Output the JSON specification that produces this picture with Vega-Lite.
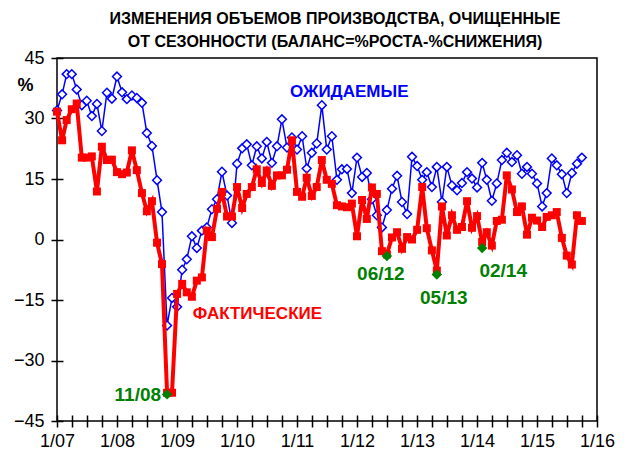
{
  "$schema": "https://vega.github.io/schema/vega-lite/v6.json",
  "width": 540,
  "height": 363,
  "autosize": {"type": "none"},
  "padding": {"left": 57, "top": 58, "right": 33, "bottom": 34},
  "background": "white",
  "title": {
    "text": ["ИЗМЕНЕНИЯ ОБЪЕМОВ ПРОИЗВОДСТВА, ОЧИЩЕННЫЕ", "ОТ СЕЗОННОСТИ (БАЛАНС=%РОСТА-%СНИЖЕНИЯ)"],
    "font": "Liberation Sans",
    "fontSize": 16,
    "fontWeight": "bold",
    "lineHeight": 23,
    "anchor": "middle",
    "offset": -1,
    "dx": 8,
    "color": "black"
  },
  "config": {
    "font": "Liberation Sans",
    "view": {"stroke": "black", "strokeWidth": 1.5},
    "axis": {"grid": false, "domain": false, "tickColor": "black", "tickWidth": 1.5, "tickSize": 12, "offset": -6, "labelFontSize": 18, "labelColor": "black", "labelFont": "Liberation Sans"}
  },
  "datasets": {
    "main": [
      {"d": "2007-01-01", "e": 32.0, "a": 31.7},
      {"d": "2007-02-01", "e": 36.0, "a": 24.6},
      {"d": "2007-03-01", "e": 41.0, "a": 29.6},
      {"d": "2007-04-01", "e": 41.0, "a": 32.3},
      {"d": "2007-05-01", "e": 37.2, "a": 33.7},
      {"d": "2007-06-01", "e": 33.3, "a": 20.3},
      {"d": "2007-07-01", "e": 34.4, "a": 20.3},
      {"d": "2007-08-01", "e": 30.6, "a": 20.6},
      {"d": "2007-09-01", "e": 33.6, "a": 11.9},
      {"d": "2007-10-01", "e": 26.9, "a": 23.0},
      {"d": "2007-11-01", "e": 36.4, "a": 19.7},
      {"d": "2007-12-01", "e": 34.9, "a": 19.8},
      {"d": "2008-01-01", "e": 40.4, "a": 16.7},
      {"d": "2008-02-01", "e": 36.5, "a": 16.2},
      {"d": "2008-03-01", "e": 34.8, "a": 16.6},
      {"d": "2008-04-01", "e": 35.7, "a": 22.1},
      {"d": "2008-05-01", "e": 35.1, "a": 17.2},
      {"d": "2008-06-01", "e": 33.9, "a": 11.5},
      {"d": "2008-07-01", "e": 26.4, "a": 7.0},
      {"d": "2008-08-01", "e": 23.2, "a": 9.5},
      {"d": "2008-09-01", "e": 14.7, "a": -0.8},
      {"d": "2008-10-01", "e": 6.8, "a": -6.1},
      {"d": "2008-11-01", "e": -21.3, "a": -38.0},
      {"d": "2008-12-01", "e": -14.5, "a": -38.0},
      {"d": "2009-01-01", "e": -16.7, "a": -13.5},
      {"d": "2009-02-01", "e": -7.5, "a": -11.0},
      {"d": "2009-03-01", "e": -4.9, "a": -13.1},
      {"d": "2009-04-01", "e": 0.8, "a": -14.2},
      {"d": "2009-05-01", "e": -2.1, "a": -10.2},
      {"d": "2009-06-01", "e": 2.2, "a": -9.4},
      {"d": "2009-07-01", "e": 3.0, "a": 2.2},
      {"d": "2009-08-01", "e": 7.5, "a": 0.6},
      {"d": "2009-09-01", "e": 10.0, "a": 7.6},
      {"d": "2009-10-01", "e": 16.8, "a": 11.8},
      {"d": "2009-11-01", "e": 10.9, "a": 5.7},
      {"d": "2009-12-01", "e": 4.1, "a": 5.7},
      {"d": "2010-01-01", "e": 18.8, "a": 13.0},
      {"d": "2010-02-01", "e": 22.6, "a": 7.8},
      {"d": "2010-03-01", "e": 23.6, "a": 11.3},
      {"d": "2010-04-01", "e": 18.4, "a": 13.0},
      {"d": "2010-05-01", "e": 23.1, "a": 17.4},
      {"d": "2010-06-01", "e": 20.1, "a": 14.0},
      {"d": "2010-07-01", "e": 24.2, "a": 17.1},
      {"d": "2010-08-01", "e": 19.0, "a": 13.3},
      {"d": "2010-09-01", "e": 23.1, "a": 15.9},
      {"d": "2010-10-01", "e": 29.8, "a": 15.9},
      {"d": "2010-11-01", "e": 22.8, "a": 17.3},
      {"d": "2010-12-01", "e": 25.3, "a": 24.6},
      {"d": "2011-01-01", "e": 22.3, "a": 11.8},
      {"d": "2011-02-01", "e": 25.6, "a": 10.6},
      {"d": "2011-03-01", "e": 17.6, "a": 15.3},
      {"d": "2011-04-01", "e": 21.5, "a": 10.8},
      {"d": "2011-05-01", "e": 23.8, "a": 13.0},
      {"d": "2011-06-01", "e": 33.3, "a": 19.7},
      {"d": "2011-07-01", "e": 22.3, "a": 14.8},
      {"d": "2011-08-01", "e": 25.6, "a": 13.8},
      {"d": "2011-09-01", "e": 14.8, "a": 8.5},
      {"d": "2011-10-01", "e": 17.4, "a": 8.2},
      {"d": "2011-11-01", "e": 17.5, "a": 8.0},
      {"d": "2011-12-01", "e": 11.5, "a": 8.9},
      {"d": "2012-01-01", "e": 20.3, "a": 0.8},
      {"d": "2012-02-01", "e": 15.5, "a": 9.8},
      {"d": "2012-03-01", "e": 16.5, "a": 5.1},
      {"d": "2012-04-01", "e": 10.0, "a": 12.9},
      {"d": "2012-05-01", "e": 6.0, "a": 11.3},
      {"d": "2012-06-01", "e": 3.0, "a": -2.9},
      {"d": "2012-07-01", "e": 7.3, "a": -3.7},
      {"d": "2012-08-01", "e": 12.6, "a": 0.5},
      {"d": "2012-09-01", "e": 15.8, "a": 1.8},
      {"d": "2012-10-01", "e": 9.3, "a": -2.3},
      {"d": "2012-11-01", "e": 6.3, "a": 0.6},
      {"d": "2012-12-01", "e": 20.5, "a": 0.0},
      {"d": "2013-01-01", "e": 18.2, "a": 2.4},
      {"d": "2013-02-01", "e": 14.8, "a": 13.0},
      {"d": "2013-03-01", "e": 16.7, "a": 2.8},
      {"d": "2013-04-01", "e": 13.0, "a": -2.7},
      {"d": "2013-05-01", "e": 18.0, "a": -7.7},
      {"d": "2013-06-01", "e": 9.3, "a": 8.2},
      {"d": "2013-07-01", "e": 18.0, "a": 1.0},
      {"d": "2013-08-01", "e": 13.4, "a": 6.0},
      {"d": "2013-09-01", "e": 12.2, "a": 2.4},
      {"d": "2013-10-01", "e": 14.0, "a": 3.1},
      {"d": "2013-11-01", "e": 16.7, "a": 9.5},
      {"d": "2013-12-01", "e": 15.1, "a": 2.9},
      {"d": "2014-01-01", "e": 12.9, "a": 5.8},
      {"d": "2014-02-01", "e": 19.0, "a": -0.6},
      {"d": "2014-03-01", "e": 14.8, "a": 1.8},
      {"d": "2014-04-01", "e": 9.6, "a": -1.5},
      {"d": "2014-05-01", "e": 13.9, "a": 4.6},
      {"d": "2014-06-01", "e": 19.7, "a": 4.9},
      {"d": "2014-07-01", "e": 21.5, "a": 15.9},
      {"d": "2014-08-01", "e": 19.2, "a": 12.4},
      {"d": "2014-09-01", "e": 20.9, "a": 6.8},
      {"d": "2014-10-01", "e": 16.3, "a": 8.2},
      {"d": "2014-11-01", "e": 18.0, "a": 1.2},
      {"d": "2014-12-01", "e": 16.3, "a": 5.4},
      {"d": "2015-01-01", "e": 13.9, "a": 4.7},
      {"d": "2015-02-01", "e": 8.2, "a": 3.1},
      {"d": "2015-03-01", "e": 11.5, "a": 5.6},
      {"d": "2015-04-01", "e": 20.1, "a": 6.0},
      {"d": "2015-05-01", "e": 18.4, "a": 6.8},
      {"d": "2015-06-01", "e": 16.2, "a": 0.4},
      {"d": "2015-07-01", "e": 11.5, "a": -4.0},
      {"d": "2015-08-01", "e": 16.5, "a": -6.2},
      {"d": "2015-09-01", "e": 18.8, "a": 6.0},
      {"d": "2015-10-01", "e": 20.3, "a": 4.6}
    ],
    "marks": [
      {"d": "2008-11-01", "v": -38.4, "label": "11/08"},
      {"d": "2012-07-01", "v": -4.1, "label": "06/12"},
      {"d": "2013-05-01", "v": -8.7, "label": "05/13"},
      {"d": "2014-02-01", "v": -2.1, "label": "02/14"}
    ],
    "series": [
      {"d": "2011-11-15", "v": 36.6, "label": "ОЖИДАЕМЫЕ", "s": "e"},
      {"d": "2010-05-05", "v": -18.4, "label": "ФАКТИЧЕСКИЕ", "s": "a"}
    ]
  },
  "layer": [
    {
      "mark": {"type": "rule", "color": "black", "strokeWidth": 1.5},
      "encoding": {
        "y": {"datum": 0, "type": "quantitative", "scale": {"domain": [-45, 45], "nice": false}}
      }
    },
    {
      "data": {"name": "main"},
      "mark": {"type": "line", "color": "#0000FF", "strokeWidth": 1.5,
        "point": {"shape": "diamond", "filled": true, "fill": "white", "stroke": "#0000FF", "strokeWidth": 1.5, "size": 78}},
      "encoding": {
        "x": {"field": "d", "type": "temporal",
          "scale": {"type": "utc", "domain": [{"year": 2007, "month": 1, "date": 1, "utc": true}, {"year": 2016, "month": 1, "date": 1, "utc": true}], "nice": false},
          "axis": {"tickCount": {"interval": "month", "step": 3}, "labelExpr": "utcmonth(datum.value) === 0 ? '1/' + utcFormat(datum.value, '%y') : ''", "labelPadding": 5, "labelOverlap": false, "labelFlush": false, "title": null}},
        "y": {"field": "e", "type": "quantitative", "scale": {"domain": [-45, 45], "nice": false},
          "axis": {"values": [-45, -30, -15, 0, 15, 30, 45], "labelPadding": 7, "title": "%", "titleAngle": 0, "titleFontSize": 18, "titleFontWeight": "bold", "titleAlign": "center", "titleBaseline": "middle", "titleX": -38, "titleY": 27, "titleColor": "black"}}
      }
    },
    {
      "data": {"name": "main"},
      "mark": {"type": "line", "color": "#FF0000", "strokeWidth": 4,
        "point": {"shape": "square", "filled": true, "color": "#FF0000", "size": 64}},
      "encoding": {
        "x": {"field": "d", "type": "temporal"},
        "y": {"field": "a", "type": "quantitative"}
      }
    },
    {
      "data": {"name": "marks"},
      "mark": {"type": "point", "shape": "diamond", "filled": true, "color": "#008000", "size": 110, "opacity": 1},
      "encoding": {
        "x": {"field": "d", "type": "temporal"},
        "y": {"field": "v", "type": "quantitative"}
      }
    },
    {
      "data": {"name": "marks"},
      "transform": [{"filter": "datum.label === '11/08'"}],
      "mark": {"type": "text", "align": "right", "baseline": "middle", "dx": -6, "dy": 1, "fontSize": 19, "fontWeight": "bold", "color": "#008000"},
      "encoding": {
        "x": {"field": "d", "type": "temporal"},
        "y": {"field": "v", "type": "quantitative"},
        "text": {"field": "label"}
      }
    },
    {
      "data": {"name": "marks"},
      "transform": [{"filter": "datum.label === '06/12'"}],
      "mark": {"type": "text", "align": "center", "baseline": "middle", "dx": -6, "dy": 18, "fontSize": 19, "fontWeight": "bold", "color": "#008000"},
      "encoding": {
        "x": {"field": "d", "type": "temporal"},
        "y": {"field": "v", "type": "quantitative"},
        "text": {"field": "label"}
      }
    },
    {
      "data": {"name": "marks"},
      "transform": [{"filter": "datum.label === '05/13'"}],
      "mark": {"type": "text", "align": "center", "baseline": "middle", "dx": 7, "dy": 23, "fontSize": 19, "fontWeight": "bold", "color": "#008000"},
      "encoding": {
        "x": {"field": "d", "type": "temporal"},
        "y": {"field": "v", "type": "quantitative"},
        "text": {"field": "label"}
      }
    },
    {
      "data": {"name": "marks"},
      "transform": [{"filter": "datum.label === '02/14'"}],
      "mark": {"type": "text", "align": "center", "baseline": "middle", "dx": 21, "dy": 23, "fontSize": 19, "fontWeight": "bold", "color": "#008000"},
      "encoding": {
        "x": {"field": "d", "type": "temporal"},
        "y": {"field": "v", "type": "quantitative"},
        "text": {"field": "label"}
      }
    },
    {
      "data": {"name": "series"},
      "mark": {"type": "text", "align": "center", "baseline": "middle", "fontSize": 17, "fontWeight": "bold"},
      "encoding": {
        "x": {"field": "d", "type": "temporal"},
        "y": {"field": "v", "type": "quantitative"},
        "text": {"field": "label"},
        "color": {"field": "s", "type": "nominal", "scale": {"domain": ["e", "a"], "range": ["#0000FF", "#FF0000"]}, "legend": null}
      }
    }
  ]
}
